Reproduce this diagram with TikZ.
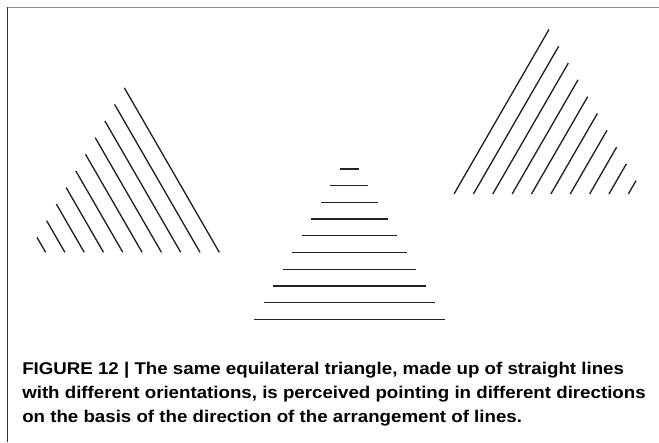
\documentclass[tikz,border=0pt]{standalone}
\usepackage{fontspec}
\setmainfont[FakeStretch=1.1]{Liberation Sans}
\usepackage{xcolor}
\definecolor{inkgray}{HTML}{222222}
\definecolor{framegray}{HTML}{8A8A8A}
\definecolor{framedark}{HTML}{333333}

\begin{document}
\begin{tikzpicture}[
  x=0.75pt, y=-0.75pt,
  hatch/.style={line width=1pt, inkgray},
  caption/.style={align=left, inner sep=0pt, text=black,
    font=\bfseries\fontsize{12.75}{18}\selectfont}
]
  \useasboundingbox (0,0) rectangle (659,442);

  % --- frame ---
  \draw[framegray, line width=1.1pt] (7,7.5) -- (659,7.5);
  \draw[framedark, line width=1.1pt] (7.5,7) -- (7.5,442);

  % --- left triangle (lines parallel to the right side) ---
  \foreach \k in {0,...,9} {
    \pgfmathsetmacro\len{190-19.2*\k}
    \draw[hatch] (219.3-19.3*\k, 252.3) -- ++(-0.5*\len, -0.866*\len);
  }

  % --- middle triangle (horizontal lines) ---
  \foreach \k in {1,...,10} {
    \draw[hatch] (349.4-9.54*\k, 152.3+16.7*\k) -- ++(19.08*\k, 0);
  }

  % --- right triangle (lines parallel to the left side) ---
  \foreach \k in {0,...,9} {
    \pgfmathsetmacro\len{190-19.4*\k}
    \draw[hatch] (454+19.37*\k, 194) -- ++(0.5*\len, -0.866*\len);
  }

  % Caption (base anchor sits on the last line)
  \node[caption, anchor=base west] (caption) at (22,422)
    {FIGURE 12 | The same equilateral triangle, made up of straight lines\\
     with different orientations, is perceived pointing in different directions\\
     on the basis of the direction of the arrangement of lines.};
\end{tikzpicture}
\end{document}
